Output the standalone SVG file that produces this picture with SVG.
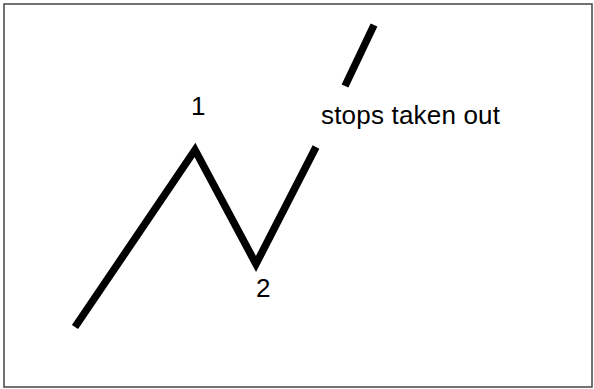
<svg xmlns="http://www.w3.org/2000/svg" width="594" height="389" viewBox="0 0 594 389">
<style>
.wave{fill:none;stroke:#000;stroke-width:7.5;stroke-linejoin:miter;stroke-linecap:butt}
.lbl{font-family:"Liberation Sans",Arial,sans-serif;font-size:26px;fill:#000}
</style>
<rect x="0" y="0" width="594" height="389" fill="#fff"/>
<rect x="4" y="4" width="588" height="383" fill="none" stroke="#444" stroke-width="1.5"/>
<g id="connectors">
<polyline class="wave" points="75,327 195,150 256,264 316,147"/>
<line class="wave" x1="345" y1="86" x2="374" y2="25"/>
</g>
<g id="label1"><text class="lbl" x="191" y="115">1</text></g>
<g id="label2"><text class="lbl" x="256" y="297">2</text></g>
<g id="labelStops"><text class="lbl" x="321" y="124" textLength="179" lengthAdjust="spacing">stops taken out</text></g>
</svg>
